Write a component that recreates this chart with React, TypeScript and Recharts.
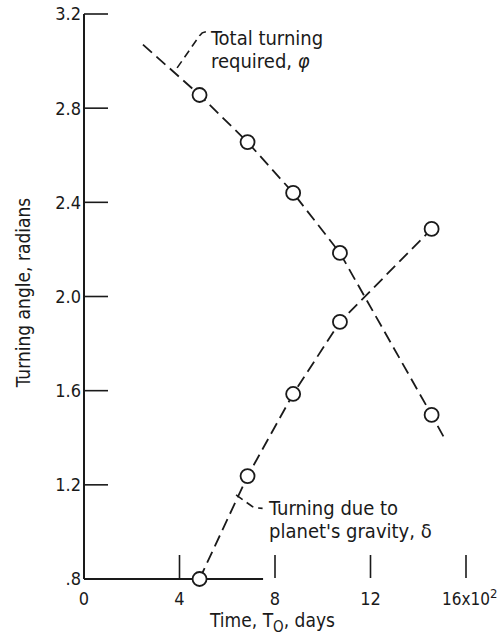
import React from 'react';
import { ComposedChart, Line, XAxis, YAxis, ReferenceLine, ReferenceDot } from 'recharts';

// time in units of 10^2 days, angles in radians
const times = [4.84, 6.85, 8.76, 10.72, 14.56];
const phiValues = [2.856, 2.656, 2.44, 2.185, 1.497];
const deltaValues = [0.8, 1.237, 1.586, 1.892, 2.287];
// ends of the faired phi curve (no symbols there)
const phiStart = { t: 2.47, v: 3.07 };
const phiEnd = { t: 15.16, v: 1.386 };
// annotation leaders
const phiLeader = [
  { t: 3.9, v: 2.971 },
  { t: 4.84, v: 3.108 },
  { t: 4.95, v: 3.12 },
  { t: 5.15, v: 3.126 },
];
const deltaLeader = [
  { t: 6.37, v: 1.157 },
  { t: 7.05, v: 1.108 },
  { t: 7.2, v: 1.102 },
  { t: 7.48, v: 1.1 },
];
const xTicks = [0, 4, 8, 12, 16];
const yTicks = [0.8, 1.2, 1.6, 2.0, 2.4, 2.8, 3.2];
const xAxisEnd = 7.5;

const phiData = [
  phiStart,
  ...times.map((t, i) => ({ t, v: phiValues[i], mark: true })),
  phiEnd,
];
const deltaData = times.map((t, i) => ({ t, v: deltaValues[i], mark: true }));

const FONT = "'Liberation Sans Narrow', 'DejaVu Sans Condensed', 'Liberation Sans', sans-serif";
const INK = '#1a1a1a';
const DASH = '12 6';

const yLabel = (v: number) => (v < 1 ? '.8' : v.toFixed(1));

const YTick = (props: any) => {
  const { x, y, payload } = props;
  const v = payload.value;
  return (
    <g>
      {v !== 0.8 && <line x1={x} y1={y} x2={x + 24} y2={y} stroke={INK} strokeWidth={1.6} />}
      <text x={x - 3} y={y} dy="0.36em" textAnchor="end" fontSize={18} fontFamily={FONT} fill={INK}>
        {yLabel(v)}
      </text>
    </g>
  );
};

const XTick = (props: any) => {
  const { x, y, payload } = props;
  const v = payload.value;
  return (
    <g>
      {v !== 0 && <line x1={x} y1={y - 1} x2={x} y2={y - 24} stroke={INK} strokeWidth={1.6} />}
      {v === 16 ? (
        <text x={x - 24} y={y + 26} textAnchor="start" fontSize={17} fontFamily={FONT} fill={INK}>
          16x10
          <tspan dy={-7} fontSize={13}>2</tspan>
        </text>
      ) : (
        <text x={x} y={y + 26} textAnchor="middle" fontSize={18} fontFamily={FONT} fill={INK}>
          {v}
        </text>
      )}
    </g>
  );
};

const Circle = (props: any) => {
  const { cx, cy, payload, index } = props;
  if (!payload.mark) return <g key={`n${index}`} />;
  return <circle key={`c${index}`} cx={cx} cy={cy} r={7} fill="#fff" stroke={INK} strokeWidth={1.8} />;
};

const Note = ({ viewBox, lines }: any) => {
  const { x, y } = viewBox;
  return (
    <text x={x} y={y} fontSize={20} fontFamily={FONT} fill={INK}>
      {lines.map((l: React.ReactNode, i: number) => (
        <tspan key={i} x={x} dy={i === 0 ? 0 : 23}>
          {l}
        </tspan>
      ))}
    </text>
  );
};

export default function App() {
  return (
    <div style={{ position: 'absolute', left: 0, top: 0, background: '#fff' }}>
      <ComposedChart width={499} height={638} margin={{ top: 14, right: 33, bottom: 0, left: 0 }}>
        <XAxis
          type="number"
          dataKey="t"
          domain={[0, 16]}
          ticks={xTicks}
          height={59}
          axisLine={false}
          tickLine={false}
          tickSize={0}
          tickMargin={0}
          tick={<XTick />}
          label={({ viewBox }: any) => (
            <text x={viewBox.x + 126} y={viewBox.y + 48} fontSize={19} fontFamily={FONT} fill={INK}>
              Time, T<tspan dy={5} fontSize={15}>O</tspan>
              <tspan dy={-5}>,  days</tspan>
            </text>
          )}
        />
        <YAxis
          type="number"
          dataKey="v"
          domain={[0.8, 3.2]}
          ticks={yTicks}
          width={84}
          axisLine={{ stroke: INK, strokeWidth: 2 }}
          tickLine={false}
          tickSize={0}
          tickMargin={0}
          tick={<YTick />}
          label={({ viewBox }: any) => {
            const cx = 30;
            const cy = viewBox.y + viewBox.height / 2 - 4;
            return (
              <text
                x={cx}
                y={cy}
                transform={`rotate(-90 ${cx} ${cy})`}
                textAnchor="middle"
                fontSize={19}
                fontFamily={FONT}
                fill={INK}
              >
                Turning angle, radians
              </text>
            );
          }}
        />
        <ReferenceLine
          segment={[
            { x: 0, y: 0.8 },
            { x: xAxisEnd, y: 0.8 },
          ]}
          stroke={INK}
          strokeWidth={1.8}
        />
        <Line
          data={phiLeader}
          dataKey="v"
          type="linear"
          stroke={INK}
          strokeWidth={1.6}
          strokeDasharray="8 5"
          dot={false}
          isAnimationActive={false}
        />
        <Line
          data={deltaLeader}
          dataKey="v"
          type="linear"
          stroke={INK}
          strokeWidth={1.6}
          strokeDasharray="8 5"
          dot={false}
          isAnimationActive={false}
        />
        <Line
          data={phiData}
          dataKey="v"
          type="linear"
          stroke={INK}
          strokeWidth={1.8}
          strokeDasharray={DASH}
          dot={<Circle />}
          isAnimationActive={false}
        />
        <Line
          data={deltaData}
          dataKey="v"
          type="linear"
          stroke={INK}
          strokeWidth={1.8}
          strokeDasharray={DASH}
          dot={<Circle />}
          isAnimationActive={false}
        />
        <ReferenceDot
          x={5.32}
          y={3.068}
          r={0}
          label={(p: any) => <Note {...p} lines={['Total turning', <>required,  <tspan fontStyle="italic">φ</tspan></>]} />}
        />
        <ReferenceDot
          x={7.75}
          y={1.072}
          r={0}
          label={(p: any) => <Note {...p} lines={['Turning due to', "planet's gravity,  δ"]} />}
        />
      </ComposedChart>
    </div>
  );
}
